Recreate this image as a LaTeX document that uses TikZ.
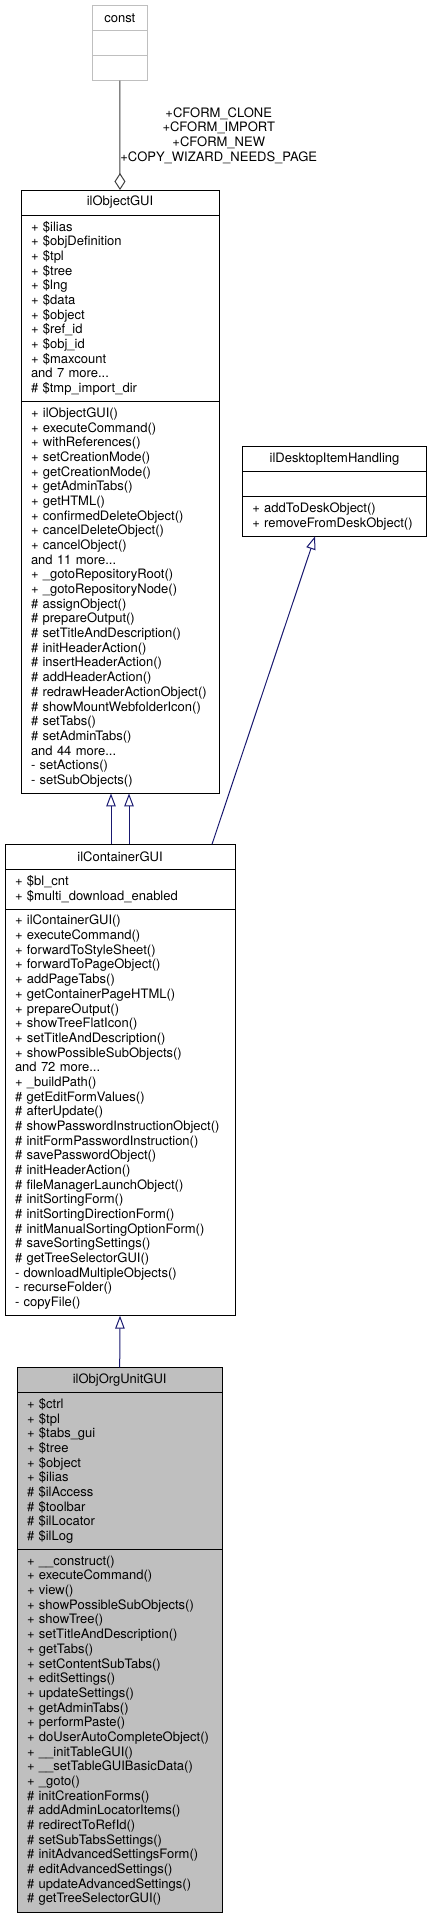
\documentclass[tikz,border=0pt]{standalone}
\usepackage{fontspec}
\setmainfont{TeX Gyre Heros}
\usetikzlibrary{arrows.meta, positioning}
\definecolor{edgeblue}{HTML}{191970}
\definecolor{edgegrey}{HTML}{404040}
\definecolor{boxgrey}{HTML}{BFBFBF}
\tikzstyle{cls} = [rectangle, draw, fill=white, line width=0.9pt, outer sep=0pt,
  inner xsep=10pt, inner ysep=0pt, align=left, font=\fontsize{13}{14.68}\selectfont]
\tikzstyle{ttl} = [cls, align=center, minimum height=25pt]
\tikzstyle{inh} = [draw=edgeblue, line width=1pt, -{Triangle[open, length=13pt, width=9.5pt]}]
\tikzstyle{use} = [draw=edgegrey, line width=1pt, -{Diamond[open, length=17pt, width=11pt]}]
\tikzset{nrows/.style={minimum height=#1*14.68pt+10.32pt}}
\begin{document}
\begin{tikzpicture}[x=1pt, y=-1pt]

    \tikzstyle{wconst} = [text width=35pt, draw=boxgrey];
    \tikzstyle{wobj} = [text width=178pt];
    \tikzstyle{wdesk} = [text width=164.4pt];
    \tikzstyle{wcont} = [text width=210pt];
    \tikzstyle{worg} = [text width=185.3pt, fill=boxgrey];

    \useasboundingbox (0,0) rectangle (432,1919);

    % const
    \node [ttl, wconst, anchor=north] at (119.8,5.7) (const) {const};
    \node [cls, wconst, nrows=1, below=0pt of const] (constattr) {};
    \node [cls, wconst, nrows=1, below=0pt of constattr] (constmeth) {};

    % ilObjectGUI
    \node [ttl, wobj, anchor=north] at (120,190) (obj) {ilObjectGUI};
    \node [cls, wobj, nrows=12, below=0pt of obj] (objattr) {+ \$ilias\\
      + \$objDefinition\\ + \$tpl\\ + \$tree\\ + \$lng\\ + \$data\\ + \$object\\
      + \$ref\_id\\ + \$obj\_id\\ + \$maxcount\\ and 7 more...\\ \# \$tmp\_import\_dir};
    \node [cls, wobj, nrows=26, below=0pt of objattr] (objmeth) {+ ilObjectGUI()\\
      + executeCommand()\\ + withReferences()\\ + setCreationMode()\\
      + getCreationMode()\\ + getAdminTabs()\\ + getHTML()\\
      + confirmedDeleteObject()\\ + cancelDeleteObject()\\ + cancelObject()\\
      and 11 more...\\ + \_gotoRepositoryRoot()\\ + \_gotoRepositoryNode()\\
      \# assignObject()\\ \# prepareOutput()\\ \# setTitleAndDescription()\\
      \# initHeaderAction()\\ \# insertHeaderAction()\\ \# addHeaderAction()\\
      \# redrawHeaderActionObject()\\ \# showMountWebfolderIcon()\\ \# setTabs()\\
      \# setAdminTabs()\\ and 44 more...\\ - setActions()\\ - setSubObjects()};

    % ilDesktopItemHandling
    \node [ttl, wdesk, anchor=north] at (334.5,446.7) (desk) {ilDesktopItemHandling};
    \node [cls, wdesk, nrows=1, below=0pt of desk] (deskattr) {};
    \node [cls, wdesk, nrows=2, below=0pt of deskattr] (deskmeth) {+ addToDeskObject()\\
      + removeFromDeskObject()};

    % ilContainerGUI
    \node [ttl, wcont, anchor=north] at (120,844.3) (cont) {ilContainerGUI};
    \node [cls, wcont, nrows=2, below=0pt of cont] (contattr) {+ \$bl\_cnt\\
      + \$multi\_download\_enabled};
    \node [cls, wcont, nrows=27, below=0pt of contattr] (contmeth) {+ ilContainerGUI()\\
      + executeCommand()\\ + forwardToStyleSheet()\\ + forwardToPageObject()\\
      + addPageTabs()\\ + getContainerPageHTML()\\ + prepareOutput()\\
      + showTreeFlatIcon()\\ + setTitleAndDescription()\\ + showPossibleSubObjects()\\
      and 72 more...\\ + \_buildPath()\\ \# getEditFormValues()\\ \# afterUpdate()\\
      \# showPasswordInstructionObject()\\ \# initFormPasswordInstruction()\\
      \# savePasswordObject()\\ \# initHeaderAction()\\ \# fileManagerLaunchObject()\\
      \# initSortingForm()\\ \# initSortingDirectionForm()\\
      \# initManualSortingOptionForm()\\ \# saveSortingSettings()\\
      \# getTreeSelectorGUI()\\ - downloadMultipleObjects()\\ - recurseFolder()\\
      - copyFile()};

    % ilObjOrgUnitGUI
    \node [ttl, worg, anchor=north] at (119.7,1367.3) (org) {ilObjOrgUnitGUI};
    \node [cls, worg, nrows=10, below=0pt of org] (orgattr) {+ \$ctrl\\ + \$tpl\\
      + \$tabs\_gui\\ + \$tree\\ + \$object\\ + \$ilias\\ \# \$ilAccess\\
      \# \$toolbar\\ \# \$ilLocator\\ \# \$ilLog};
    \node [cls, worg, nrows=24, below=0pt of orgattr] (orgmeth) {+ \_\_construct()\\
      + executeCommand()\\ + view()\\ + showPossibleSubObjects()\\ + showTree()\\
      + setTitleAndDescription()\\ + getTabs()\\ + setContentSubTabs()\\
      + editSettings()\\ + updateSettings()\\ + getAdminTabs()\\ + performPaste()\\
      + doUserAutoCompleteObject()\\ + \_\_initTableGUI()\\
      + \_\_setTableGUIBasicData()\\ + \_goto()\\ \# initCreationForms()\\
      \# addAdminLocatorItems()\\ \# redirectToRefId()\\ \# setSubTabsSettings()\\
      \# initAdvancedSettingsForm()\\ \# editAdvancedSettings()\\
      \# updateAdvancedSettings()\\ \# getTreeSelectorGUI()};

    \draw [use] (constmeth.south) -- node [midway, anchor=west, inner sep=0pt, align=center,
      font=\fontsize{13}{14.68}\selectfont] {+CFORM\_CLONE\\ +CFORM\_IMPORT\\ +CFORM\_NEW\\
      +COPY\_WIZARD\_NEEDS\_PAGE} (obj.north);

    \draw [inh] ([xshift=-9pt]cont.north) -- ([xshift=-9pt]objmeth.south);
    \draw [inh] ([xshift=9pt]cont.north) -- ([xshift=9pt]objmeth.south);
    \draw [inh] ([xshift=-23pt]cont.north east) -- ([xshift=-19.5pt]deskmeth.south);
    \draw [inh] (org.north) -- (contmeth.south);

\end{tikzpicture}
\end{document}
